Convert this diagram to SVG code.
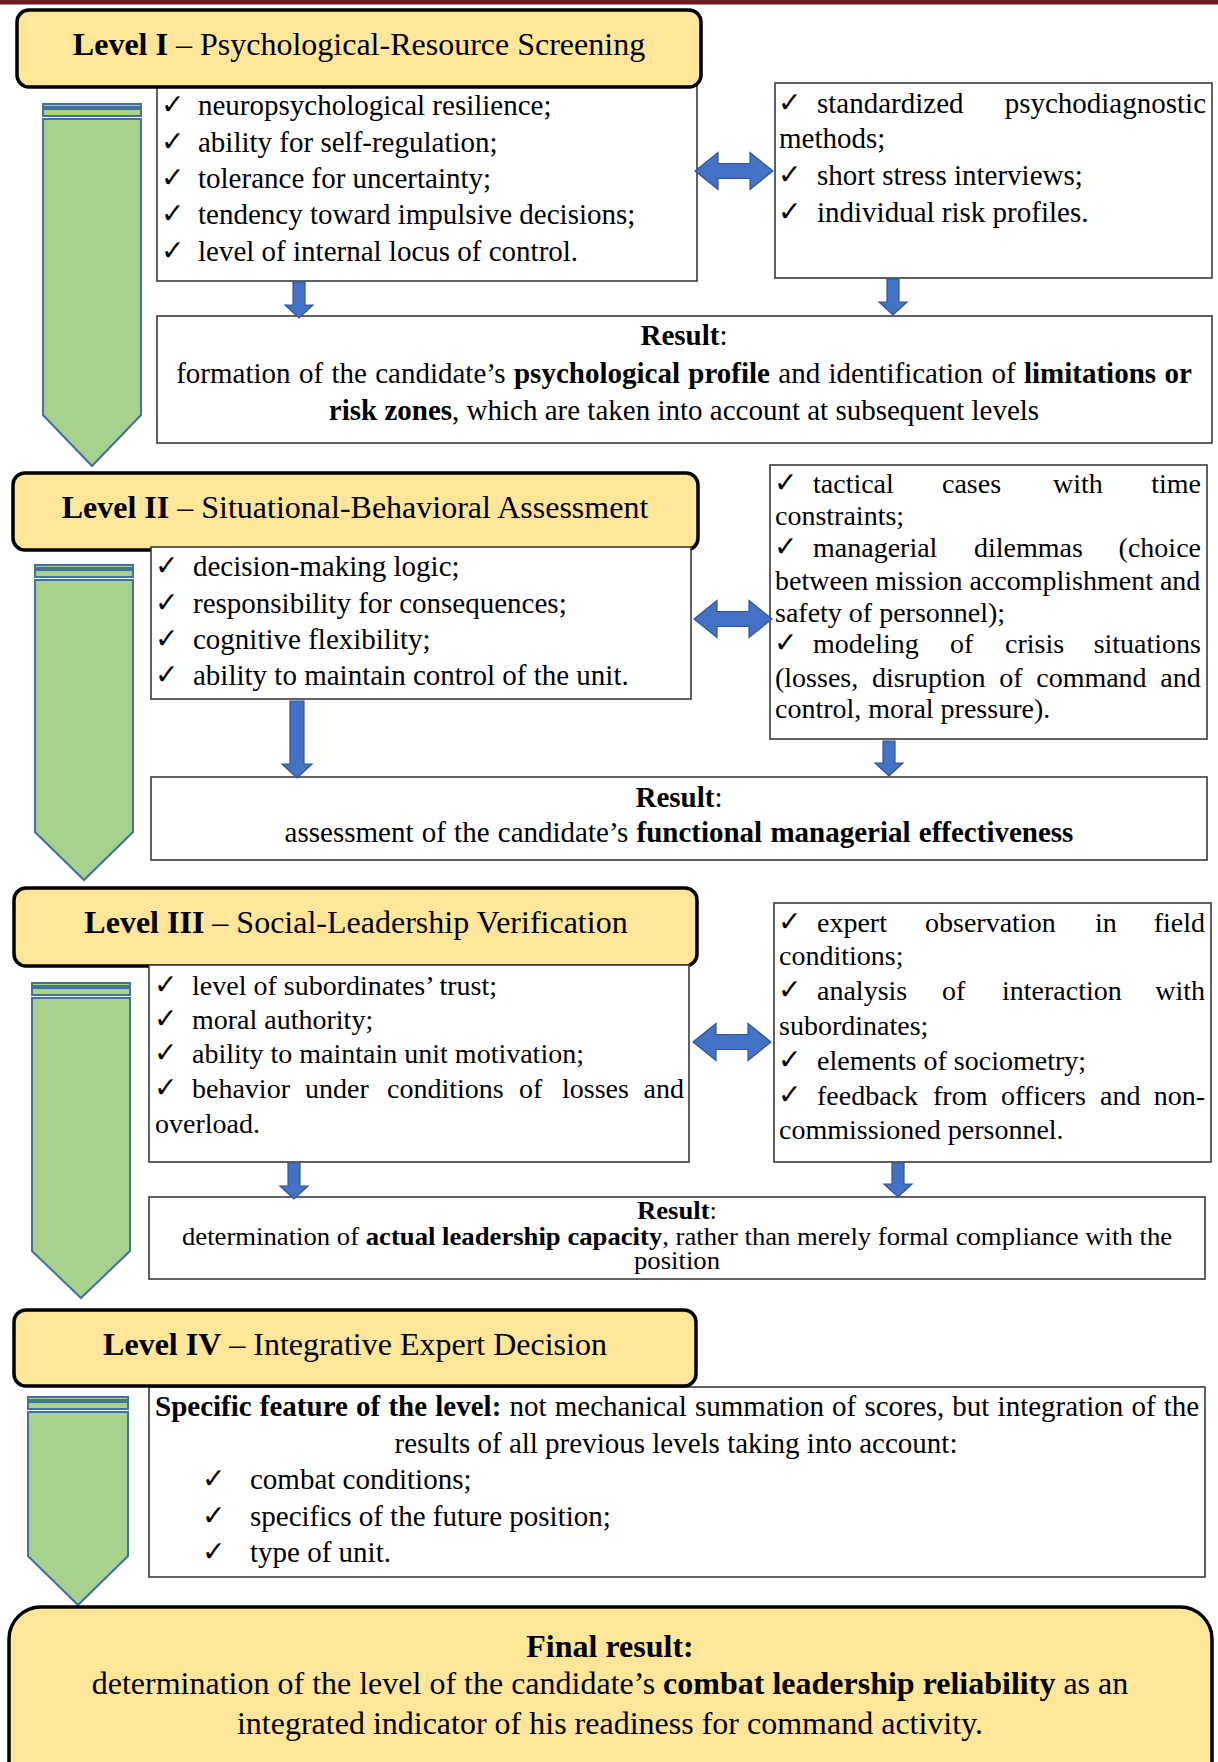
<svg xmlns="http://www.w3.org/2000/svg" width="1218" height="1762" viewBox="0 0 1218 1762">
<style>
.t{font-family:"Liberation Serif","Times New Roman",serif;fill:#000;}
.s29{font-size:29px;}
.s28{font-size:28px;}
.s32{font-size:32px;}
.b{font-weight:bold;}
.chk{font-family:"DejaVu Sans",sans-serif;font-size:28px;fill:#000;}
.hdr{fill:#FFE699;stroke:#000;stroke-width:3.5;}
.box{fill:#fff;stroke:#3a3a3a;stroke-width:1.6;}
.chev{fill:#A9D18E;stroke:#41719C;stroke-width:2;}
.arr{fill:#4472C4;stroke:#2F5597;stroke-width:1.2;}
.mid{text-anchor:middle;}
.end{text-anchor:end;}
</style>
<defs>
<path id="dbl" d="M-39,0 L-16,-18.5 L-16,-7.5 L16,-7.5 L16,-18.5 L39,0 L16,18.5 L16,7.5 L-16,7.5 L-16,18.5 Z"/>
</defs>
<rect x="0" y="0" width="1218" height="4.5" fill="#6B1E22"/>

<!-- Chevrons -->
<g id="chevron1">
<rect class="chev" x="43" y="104" width="98" height="3"/>
<rect class="chev" x="43" y="109" width="98" height="7"/>
<path class="chev" d="M43,119 H141 V415 L92,466 L43,415 Z"/>
</g>
<g id="chevron2">
<rect class="chev" x="35" y="565" width="98" height="3"/>
<rect class="chev" x="35" y="570" width="98" height="7"/>
<path class="chev" d="M35,580 H133 V832 L84,880 L35,832 Z"/>
</g>
<g id="chevron3">
<rect class="chev" x="32" y="983" width="98" height="3"/>
<rect class="chev" x="32" y="988" width="98" height="7"/>
<path class="chev" d="M32,998 H130 V1251 L81,1298 L32,1251 Z"/>
</g>
<g id="chevron4">
<rect class="chev" x="28" y="1397" width="100" height="3"/>
<rect class="chev" x="28" y="1402" width="100" height="7"/>
<path class="chev" d="M28,1412 H128 V1556 L78,1605 L28,1556 Z"/>
</g>

<!-- Level I -->
<g id="box1L">
<rect class="box" x="157" y="86" width="540" height="195"/>
<text class="chk" x="161" y="114">✓</text><text class="t s29" x="198" y="115">neuropsychological resilience;</text>
<text class="chk" x="161" y="151">✓</text><text class="t s29" x="198" y="152">ability for self-regulation;</text>
<text class="chk" x="161" y="187">✓</text><text class="t s29" x="198" y="188">tolerance for uncertainty;</text>
<text class="chk" x="161" y="223">✓</text><text class="t s29" x="198" y="224">tendency toward impulsive decisions;</text>
<text class="chk" x="161" y="260">✓</text><text class="t s29" x="198" y="261">level of internal locus of control.</text>
</g>
<g id="header1">
<rect class="hdr" x="17" y="10" width="684" height="77" rx="12"/>
<text class="t s32 mid" x="359" y="55"><tspan class="b">Level I</tspan> – Psychological-Resource Screening</text>
</g>
<g id="box1R">
<rect class="box" x="775" y="83" width="437" height="195"/>
<text class="chk" x="778" y="112">✓</text><text class="t s29" x="817" y="113">standardized</text><text class="t s29 end" x="1206" y="113">psychodiagnostic</text>
<text class="t s29" x="779" y="148">methods;</text>
<text class="chk" x="778" y="184">✓</text><text class="t s29" x="817" y="185">short stress interviews;</text>
<text class="chk" x="778" y="221">✓</text><text class="t s29" x="817" y="222">individual risk profiles.</text>
</g>
<g id="result1">
<rect class="box" x="157" y="316" width="1055" height="127"/>
<text class="t s29 mid" x="684" y="345"><tspan class="b">Result</tspan>:</text>
<text class="t s29 mid" x="684" y="383" word-spacing="1.1">formation of the candidate’s <tspan class="b">psychological profile</tspan> and identification of <tspan class="b">limitations or</tspan></text>
<text class="t s29 mid" x="684" y="420"><tspan class="b">risk zones</tspan>, which are taken into account at subsequent levels</text>
</g>

<!-- Level II -->
<g id="header2">
<rect class="hdr" x="13" y="473" width="685" height="77" rx="12"/>
<text class="t s32 mid" x="355" y="518"><tspan class="b">Level II</tspan> – Situational-Behavioral Assessment</text>
</g>
<g id="box2L">
<rect class="box" x="151" y="547" width="540" height="152"/>
<text class="chk" x="155" y="575">✓</text><text class="t s29" x="193" y="576">decision-making logic;</text>
<text class="chk" x="155" y="612">✓</text><text class="t s29" x="193" y="613">responsibility for consequences;</text>
<text class="chk" x="155" y="648">✓</text><text class="t s29" x="193" y="649">cognitive flexibility;</text>
<text class="chk" x="155" y="684">✓</text><text class="t s29" x="193" y="685">ability to maintain control of the unit.</text>
</g>
<g id="box2R">
<rect class="box" x="770" y="465" width="437" height="274"/>
<text class="chk" x="774" y="492">✓</text><text class="t s28" y="493"><tspan x="813">tactical</tspan><tspan x="942">cases</tspan><tspan x="1053">with</tspan></text><text class="t s28 end" x="1201" y="493">time</text>
<text class="t s28" x="775" y="525">constraints;</text>
<text class="chk" x="774" y="556">✓</text><text class="t s28" y="557"><tspan x="813">managerial</tspan><tspan x="974">dilemmas</tspan></text><text class="t s28 end" x="1201" y="557">(choice</text>
<text class="t s28" x="775" y="590">between mission accomplishment and</text>
<text class="t s28" x="775" y="622">safety of personnel);</text>
<text class="chk" x="774" y="652">✓</text><text class="t s28" y="653"><tspan x="813">modeling</tspan><tspan x="950">of</tspan><tspan x="1005">crisis</tspan></text><text class="t s28 end" x="1201" y="653">situations</text>
<text class="t s28" x="775" y="687" word-spacing="6.7">(losses, disruption of command and</text>
<text class="t s28" x="775" y="718">control, moral pressure).</text>
</g>
<g id="result2">
<rect class="box" x="151" y="777" width="1056" height="83"/>
<text class="t s29 mid" x="679" y="807"><tspan class="b">Result</tspan>:</text>
<text class="t s29 mid" x="679" y="842" word-spacing="1">assessment of the candidate’s <tspan class="b">functional managerial effectiveness</tspan></text>
</g>

<!-- Level III -->
<g id="header3">
<rect class="hdr" x="14" y="888" width="683" height="78" rx="12"/>
<text class="t s32 mid" x="356" y="933"><tspan class="b">Level III</tspan> – Social-Leadership Verification</text>
</g>
<g id="box3L">
<rect class="box" x="149" y="965" width="540" height="197"/>
<text class="chk" x="154" y="994">✓</text><text class="t s28" x="192" y="995">level of subordinates’ trust;</text>
<text class="chk" x="154" y="1028">✓</text><text class="t s28" x="192" y="1029">moral authority;</text>
<text class="chk" x="154" y="1062">✓</text><text class="t s28" x="192" y="1063">ability to maintain unit motivation;</text>
<text class="chk" x="154" y="1097">✓</text><text class="t s28" y="1098"><tspan x="192">behavior</tspan><tspan x="305">under</tspan><tspan x="387">conditions</tspan><tspan x="519">of</tspan><tspan x="562">losses</tspan></text><text class="t s28 end" x="684" y="1098">and</text>
<text class="t s28" x="155" y="1133">overload.</text>
</g>
<g id="box3R">
<rect class="box" x="774" y="903" width="437" height="259"/>
<text class="chk" x="778" y="931">✓</text><text class="t s28" y="932"><tspan x="817">expert</tspan><tspan x="925">observation</tspan><tspan x="1095">in</tspan></text><text class="t s28 end" x="1205" y="932">field</text>
<text class="t s28" x="779" y="965">conditions;</text>
<text class="chk" x="778" y="999">✓</text><text class="t s28" y="1000"><tspan x="817">analysis</tspan><tspan x="942">of</tspan><tspan x="1002">interaction</tspan></text><text class="t s28 end" x="1205" y="1000">with</text>
<text class="t s28" x="779" y="1035">subordinates;</text>
<text class="chk" x="778" y="1069">✓</text><text class="t s28" x="817" y="1070">elements of sociometry;</text>
<text class="chk" x="778" y="1104">✓</text><text class="t s28" y="1105"><tspan x="817">feedback</tspan><tspan x="933">from</tspan><tspan x="1001">officers</tspan><tspan x="1100">and</tspan></text><text class="t s28 end" x="1205" y="1105">non-</text>
<text class="t s28" x="779" y="1139">commissioned personnel.</text>
</g>
<g id="result3">
<rect class="box" x="149" y="1197" width="1056" height="82"/>
<g transform="translate(677,0) scale(1.09,1)">
<text class="t mid" style="font-size:24.5px" x="0" y="1219"><tspan class="b">Result</tspan>:</text>
<text class="t mid" style="font-size:24.5px" x="0" y="1245">determination of <tspan class="b">actual leadership capacity</tspan>, rather than merely formal compliance with the</text>
<text class="t mid" style="font-size:24.5px" x="0" y="1269">position</text>
</g>
</g>

<!-- Level IV -->
<g id="box4">
<rect class="box" x="149" y="1387" width="1056" height="190"/>
<text class="t s29" x="155" y="1416" word-spacing="0.95"><tspan class="b">Specific feature of the level:</tspan> not mechanical summation of scores, but integration of the</text>
<text class="t s29 mid" x="676" y="1453">results of all previous levels taking into account:</text>
<text class="chk" x="202" y="1488">✓</text><text class="t s29" x="250" y="1489">combat conditions;</text>
<text class="chk" x="202" y="1525">✓</text><text class="t s29" x="250" y="1526">specifics of the future position;</text>
<text class="chk" x="202" y="1561">✓</text><text class="t s29" x="250" y="1562">type of unit.</text>
</g>
<g id="header4">
<rect class="hdr" x="14" y="1310" width="682" height="76" rx="12"/>
<text class="t s32 mid" x="355" y="1355"><tspan class="b">Level IV</tspan> – Integrative Expert Decision</text>
</g>

<!-- Final -->
<g id="final">
<rect class="hdr" x="9" y="1607" width="1203" height="190" rx="32"/>
<text class="t s32 mid b" x="610" y="1657">Final result:</text>
<text class="t s32 mid" x="610" y="1694">determination of the level of the candidate’s <tspan class="b">combat leadership reliability</tspan> as an</text>
<text class="t s32 mid" x="610" y="1734">integrated indicator of his readiness for command activity.</text>
</g>

<!-- Connectors -->
<g id="connectors">
<use href="#dbl" class="arr" transform="translate(734,171)"/>
<use href="#dbl" class="arr" transform="translate(733,619)"/>
<use href="#dbl" class="arr" transform="translate(732,1042)"/>
<polygon class="arr" points="293,282 305,282 305,305 313,305 299,318 285,305 293,305"/>
<polygon class="arr" points="887,279 899,279 899,302 907,302 893,315 879,302 887,302"/>
<polygon class="arr" points="290,701 304,701 304,764 312,764 297,778 282,764 290,764"/>
<polygon class="arr" points="883,741 895,741 895,763 903,763 889,776 875,763 883,763"/>
<polygon class="arr" points="288,1163 300,1163 300,1186 308,1186 294,1199 280,1186 288,1186"/>
<polygon class="arr" points="892,1163 904,1163 904,1184 912,1184 898,1197 884,1184 892,1184"/>
</g>
</svg>
